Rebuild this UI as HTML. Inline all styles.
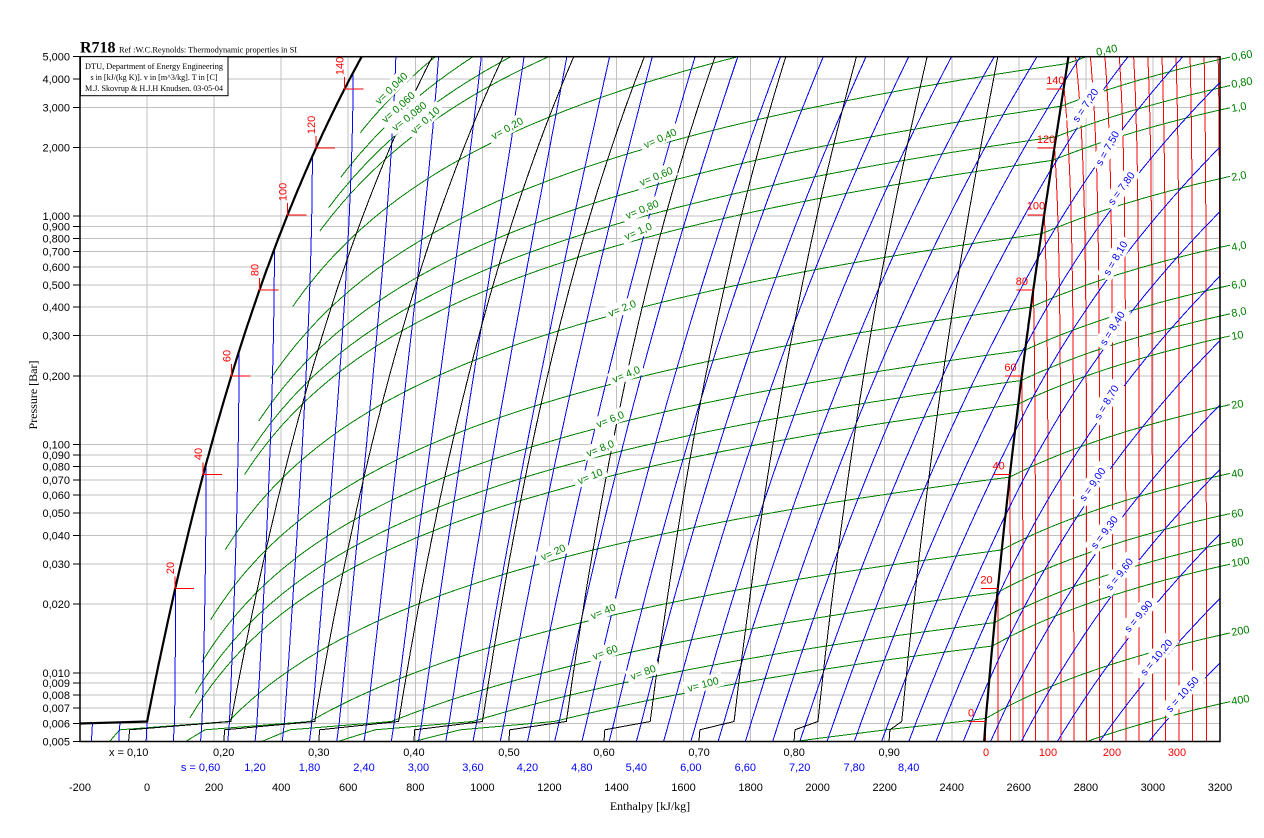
<!DOCTYPE html>
<html><head><meta charset="utf-8">
<style>
html,body{margin:0;padding:0;background:#fff;}
svg{display:block;}
</style></head><body>
<svg width="1264" height="838" viewBox="0 0 1264 838" xmlns="http://www.w3.org/2000/svg">
<defs>
<clipPath id="pc"><rect x="80" y="56.7" width="1140" height="684.8"/></clipPath>
<clipPath id="pv"><rect x="80" y="56.7" width="1150" height="684.8"/></clipPath>
</defs>
<rect width="1264" height="838" fill="#fff"/>

<!-- grid -->
<g stroke="#c0c0c0" stroke-width="1" shape-rendering="crispEdges">
<line x1="80" x2="1220" y1="78.8" y2="78.8"/><line x1="80" x2="1220" y1="107.3" y2="107.3"/><line x1="80" x2="1220" y1="147.5" y2="147.5"/><line x1="80" x2="1220" y1="216.2" y2="216.2"/><line x1="80" x2="1220" y1="226.7" y2="226.7"/><line x1="80" x2="1220" y1="238.4" y2="238.4"/><line x1="80" x2="1220" y1="251.6" y2="251.6"/><line x1="80" x2="1220" y1="266.9" y2="266.9"/><line x1="80" x2="1220" y1="285" y2="285"/><line x1="80" x2="1220" y1="307.1" y2="307.1"/><line x1="80" x2="1220" y1="335.6" y2="335.6"/><line x1="80" x2="1220" y1="375.8" y2="375.8"/><line x1="80" x2="1220" y1="444.5" y2="444.5"/><line x1="80" x2="1220" y1="455" y2="455"/><line x1="80" x2="1220" y1="466.6" y2="466.6"/><line x1="80" x2="1220" y1="479.9" y2="479.9"/><line x1="80" x2="1220" y1="495.2" y2="495.2"/><line x1="80" x2="1220" y1="513.2" y2="513.2"/><line x1="80" x2="1220" y1="535.4" y2="535.4"/><line x1="80" x2="1220" y1="563.9" y2="563.9"/><line x1="80" x2="1220" y1="604.1" y2="604.1"/><line x1="80" x2="1220" y1="672.8" y2="672.8"/><line x1="80" x2="1220" y1="683.2" y2="683.2"/><line x1="80" x2="1220" y1="694.9" y2="694.9"/><line x1="80" x2="1220" y1="708.1" y2="708.1"/><line x1="80" x2="1220" y1="723.4" y2="723.4"/>
<line y1="56.7" y2="741.5" x1="147.1" x2="147.1"/><line y1="56.7" y2="741.5" x1="214.1" x2="214.1"/><line y1="56.7" y2="741.5" x1="281.2" x2="281.2"/><line y1="56.7" y2="741.5" x1="348.2" x2="348.2"/><line y1="56.7" y2="741.5" x1="415.3" x2="415.3"/><line y1="56.7" y2="741.5" x1="482.4" x2="482.4"/><line y1="56.7" y2="741.5" x1="549.4" x2="549.4"/><line y1="56.7" y2="741.5" x1="616.5" x2="616.5"/><line y1="56.7" y2="741.5" x1="683.5" x2="683.5"/><line y1="56.7" y2="741.5" x1="750.6" x2="750.6"/><line y1="56.7" y2="741.5" x1="817.6" x2="817.6"/><line y1="56.7" y2="741.5" x1="884.7" x2="884.7"/><line y1="56.7" y2="741.5" x1="951.8" x2="951.8"/><line y1="56.7" y2="741.5" x1="1018.8" x2="1018.8"/><line y1="56.7" y2="741.5" x1="1085.9" x2="1085.9"/><line y1="56.7" y2="741.5" x1="1152.9" x2="1152.9"/>
</g>

<g id="curves"></g>

<!-- saturation ticks -->
<g stroke="#f00" stroke-width="1" shape-rendering="crispEdges" fill="none">
<path d="M175.2 576.5V588.5H194.2"/><path d="M203.2 462.6V474.6H222.2"/><path d="M231.3 364.1V376.1H250.3"/><path d="M259.4 278.2V290.2H278.4"/><path d="M287.7 202.9V214.9H306.7"/><path d="M316.1 136.2V148.2H335.1"/><path d="M344.6 76.8V88.8H363.6"/>
<path d="M968.6 721.5H985.6"/><path d="M980.9 588.5H997.9"/><path d="M993 474.6H1010"/><path d="M1004.9 376.1H1021.9"/><path d="M1016.3 290.2H1033.3"/><path d="M1027.3 214.9H1044.3"/><path d="M1037.4 148.2H1054.4"/><path d="M1046.7 88.8H1063.7"/>
</g>
<g font-family="Liberation Sans, sans-serif" font-size="11" fill="#f00">
<text transform="translate(170.2,568) rotate(-90)" text-anchor="middle" dy="4">20</text>
<text transform="translate(198.2,454) rotate(-90)" text-anchor="middle" dy="4">40</text>
<text transform="translate(226.3,356) rotate(-90)" text-anchor="middle" dy="4">60</text>
<text transform="translate(254.4,270) rotate(-90)" text-anchor="middle" dy="4">80</text>
<text transform="translate(282.7,192) rotate(-90)" text-anchor="middle" dy="4">100</text>
<text transform="translate(311.1,125) rotate(-90)" text-anchor="middle" dy="4">120</text>
<text transform="translate(339.6,66) rotate(-90)" text-anchor="middle" dy="4">140</text>
<text x="968" y="716.5">0</text>
<text x="980.4" y="583.5">20</text>
<text x="992.5" y="469.6">40</text>
<text x="1004.4" y="371.1">60</text>
<text x="1015.8" y="285.2">80</text>
<text x="1026.8" y="209.4">100</text>
<text x="1036.9" y="143.2">120</text>
<text x="1046.2" y="84">140</text>
</g>

<!-- in-plot isochore labels -->
<g font-family="Liberation Sans, sans-serif" font-size="10.5" fill="#008000" text-anchor="middle">
<g transform="translate(391,88) rotate(-44)"><rect x="-24" y="-7" width="48" height="14" fill="#fff"/><text y="4">v= 0,040</text></g>
<g transform="translate(398,107) rotate(-42)"><rect x="-24" y="-7" width="48" height="14" fill="#fff"/><text y="4">v= 0,060</text></g>
<g transform="translate(409,116) rotate(-38)"><rect x="-24" y="-7" width="48" height="14" fill="#fff"/><text y="4">v= 0,080</text></g>
<g transform="translate(425,120) rotate(-42)"><rect x="-21" y="-7" width="42" height="14" fill="#fff"/><text y="4">v= 0,10</text></g>
<g transform="translate(507,128) rotate(-29)"><rect x="-21" y="-7" width="42" height="14" fill="#fff"/><text y="4">v= 0,20</text></g>
<g transform="translate(660,138) rotate(-24)"><rect x="-21" y="-7" width="42" height="14" fill="#fff"/><text y="4">v= 0,40</text></g>
<g transform="translate(656,176) rotate(-22)"><rect x="-21" y="-7" width="42" height="14" fill="#fff"/><text y="4">v= 0,60</text></g>
<g transform="translate(642,209) rotate(-22)"><rect x="-21" y="-7" width="42" height="14" fill="#fff"/><text y="4">v= 0,80</text></g>
<g transform="translate(638,231) rotate(-24)"><rect x="-18" y="-7" width="36" height="14" fill="#fff"/><text y="4">v= 1,0</text></g>
<g transform="translate(622,308) rotate(-22)"><rect x="-18" y="-7" width="36" height="14" fill="#fff"/><text y="4">v= 2,0</text></g>
<g transform="translate(626,374) rotate(-22)"><rect x="-18" y="-7" width="36" height="14" fill="#fff"/><text y="4">v= 4,0</text></g>
<g transform="translate(610,419) rotate(-22)"><rect x="-18" y="-7" width="36" height="14" fill="#fff"/><text y="4">v= 6,0</text></g>
<g transform="translate(600,448) rotate(-22)"><rect x="-18" y="-7" width="36" height="14" fill="#fff"/><text y="4">v= 8,0</text></g>
<g transform="translate(590,476) rotate(-22)"><rect x="-17" y="-7" width="34" height="14" fill="#fff"/><text y="4">v= 10</text></g>
<g transform="translate(553,552) rotate(-24)"><rect x="-17" y="-7" width="34" height="14" fill="#fff"/><text y="4">v= 20</text></g>
<g transform="translate(603,611) rotate(-22)"><rect x="-17" y="-7" width="34" height="14" fill="#fff"/><text y="4">v= 40</text></g>
<g transform="translate(605,652) rotate(-20)"><rect x="-17" y="-7" width="34" height="14" fill="#fff"/><text y="4">v= 60</text></g>
<g transform="translate(643,672) rotate(-20)"><rect x="-17" y="-7" width="34" height="14" fill="#fff"/><text y="4">v= 80</text></g>
<g transform="translate(703,684) rotate(-15)"><rect x="-20" y="-7" width="40" height="14" fill="#fff"/><text y="4">v= 100</text></g>
</g>

<!-- in-plot isentrope labels -->
<g font-family="Liberation Sans, sans-serif" font-size="10.5" fill="#0000ff" text-anchor="middle">
<g transform="translate(1085,105) rotate(-56)"><rect x="-23" y="-8" width="46" height="16" fill="#fff"/><text y="4">s = 7,20</text></g>
<g transform="translate(1107,148) rotate(-61)"><rect x="-23" y="-8" width="46" height="16" fill="#fff"/><text y="4">s = 7,50</text></g>
<g transform="translate(1121,188) rotate(-54)"><rect x="-23" y="-8" width="46" height="16" fill="#fff"/><text y="4">s = 7,80</text></g>
<g transform="translate(1115,258) rotate(-60)"><rect x="-23" y="-8" width="46" height="16" fill="#fff"/><text y="4">s = 8,10</text></g>
<g transform="translate(1112,328) rotate(-58)"><rect x="-23" y="-8" width="46" height="16" fill="#fff"/><text y="4">s = 8,40</text></g>
<g transform="translate(1106,402) rotate(-59)"><rect x="-23" y="-8" width="46" height="16" fill="#fff"/><text y="4">s = 8,70</text></g>
<g transform="translate(1092,484) rotate(-55)"><rect x="-23" y="-8" width="46" height="16" fill="#fff"/><text y="4">s = 9,00</text></g>
<g transform="translate(1104,532) rotate(-53)"><rect x="-23" y="-8" width="46" height="16" fill="#fff"/><text y="4">s = 9,30</text></g>
<g transform="translate(1119,574) rotate(-52)"><rect x="-23" y="-8" width="46" height="16" fill="#fff"/><text y="4">s = 9,60</text></g>
<g transform="translate(1138,616) rotate(-50)"><rect x="-23" y="-8" width="46" height="16" fill="#fff"/><text y="4">s = 9,90</text></g>
<g transform="translate(1156,657) rotate(-50)"><rect x="-27" y="-8" width="54" height="16" fill="#fff"/><text y="4">s = 10,20</text></g>
<g transform="translate(1182,694) rotate(-48)"><rect x="-27" y="-8" width="54" height="16" fill="#fff"/><text y="4">s = 10,50</text></g>
</g>

<!-- plot border -->
<rect x="80" y="56.7" width="1140" height="684.8" fill="none" stroke="#000" stroke-width="1.5"/>

<!-- right isochore labels -->
<g font-family="Liberation Sans, sans-serif" font-size="11" fill="#008000">
<text transform="translate(1232,61) rotate(-10)">0,60</text>
<text transform="translate(1232,88) rotate(-10)">0,80</text>
<text transform="translate(1232,112) rotate(-10)">1,0</text>
<text transform="translate(1232,181) rotate(-10)">2,0</text>
<text transform="translate(1232,251) rotate(-10)">4,0</text>
<text transform="translate(1232,289) rotate(-10)">6,0</text>
<text transform="translate(1232,317) rotate(-10)">8,0</text>
<text transform="translate(1232,340) rotate(-10)">10</text>
<text transform="translate(1232,409) rotate(-10)">20</text>
<text transform="translate(1232,478) rotate(-10)">40</text>
<text transform="translate(1232,518) rotate(-10)">60</text>
<text transform="translate(1232,547) rotate(-10)">80</text>
<text transform="translate(1232,567) rotate(-10)">100</text>
<text transform="translate(1232,636) rotate(-10)">200</text>
<text transform="translate(1232,705) rotate(-10)">400</text>
<text transform="translate(1097,56) rotate(-12)">0,40</text>
</g>

<!-- y axis -->
<g stroke="#000" stroke-width="1" shape-rendering="crispEdges">
<line x1="73" x2="80" y1="56.7" y2="56.7"/><line x1="73" x2="80" y1="78.8" y2="78.8"/><line x1="73" x2="80" y1="107.3" y2="107.3"/><line x1="73" x2="80" y1="147.5" y2="147.5"/><line x1="73" x2="80" y1="216.2" y2="216.2"/><line x1="73" x2="80" y1="226.7" y2="226.7"/><line x1="73" x2="80" y1="238.4" y2="238.4"/><line x1="73" x2="80" y1="251.6" y2="251.6"/><line x1="73" x2="80" y1="266.9" y2="266.9"/><line x1="73" x2="80" y1="285" y2="285"/><line x1="73" x2="80" y1="307.1" y2="307.1"/><line x1="73" x2="80" y1="335.6" y2="335.6"/><line x1="73" x2="80" y1="375.8" y2="375.8"/><line x1="73" x2="80" y1="444.5" y2="444.5"/><line x1="73" x2="80" y1="455" y2="455"/><line x1="73" x2="80" y1="466.6" y2="466.6"/><line x1="73" x2="80" y1="479.9" y2="479.9"/><line x1="73" x2="80" y1="495.2" y2="495.2"/><line x1="73" x2="80" y1="513.2" y2="513.2"/><line x1="73" x2="80" y1="535.4" y2="535.4"/><line x1="73" x2="80" y1="563.9" y2="563.9"/><line x1="73" x2="80" y1="604.1" y2="604.1"/><line x1="73" x2="80" y1="672.8" y2="672.8"/><line x1="73" x2="80" y1="683.2" y2="683.2"/><line x1="73" x2="80" y1="694.9" y2="694.9"/><line x1="73" x2="80" y1="708.1" y2="708.1"/><line x1="73" x2="80" y1="723.4" y2="723.4"/><line x1="73" x2="80" y1="741.5" y2="741.5"/>
</g>
<g font-family="Liberation Sans, sans-serif" font-size="11" fill="#000" text-anchor="end">
<text x="70" y="60.7">5,000</text><text x="70" y="82.8">4,000</text><text x="70" y="111.3">3,000</text><text x="70" y="151.5">2,000</text><text x="70" y="220.2">1,000</text><text x="70" y="230.7">0,900</text><text x="70" y="242.4">0,800</text><text x="70" y="255.6">0,700</text><text x="70" y="270.9">0,600</text><text x="70" y="289">0,500</text><text x="70" y="311.1">0,400</text><text x="70" y="339.6">0,300</text><text x="70" y="379.8">0,200</text><text x="70" y="448.5">0,100</text><text x="70" y="459">0,090</text><text x="70" y="470.6">0,080</text><text x="70" y="483.9">0,070</text><text x="70" y="499.2">0,060</text><text x="70" y="517.2">0,050</text><text x="70" y="539.4">0,040</text><text x="70" y="567.9">0,030</text><text x="70" y="608.1">0,020</text><text x="70" y="676.8">0,010</text><text x="70" y="687.2">0,009</text><text x="70" y="698.9">0,008</text><text x="70" y="712.1">0,007</text><text x="70" y="727.4">0,006</text><text x="70" y="745.5">0,005</text>
</g>

<!-- bottom labels -->
<g font-family="Liberation Sans, sans-serif" font-size="11" text-anchor="middle">
<g fill="#000">
<text x="128.7" y="756">x = 0,10</text><text x="223.7" y="756">0,20</text><text x="318.8" y="756">0,30</text><text x="413.9" y="756">0,40</text><text x="509" y="756">0,50</text><text x="604" y="756">0,60</text><text x="699.1" y="756">0,70</text><text x="794.2" y="756">0,80</text><text x="889.2" y="756">0,90</text>
</g>
<g fill="#f00">
<text x="986" y="756">0</text><text x="1048" y="756">100</text><text x="1112" y="756">200</text><text x="1177" y="756">300</text>
</g>
<g fill="#0000ff">
<text x="200.6" y="771">s = 0,60</text><text x="255" y="771">1,20</text><text x="309.5" y="771">1,80</text><text x="364" y="771">2,40</text><text x="418.4" y="771">3,00</text><text x="472.9" y="771">3,60</text><text x="527.4" y="771">4,20</text><text x="581.8" y="771">4,80</text><text x="636.3" y="771">5,40</text><text x="690.8" y="771">6,00</text><text x="745.3" y="771">6,60</text><text x="799.7" y="771">7,20</text><text x="854.2" y="771">7,80</text><text x="908.7" y="771">8,40</text>
</g>
<g fill="#000">
<text x="80" y="791">-200</text><text x="147.1" y="791">0</text><text x="214.1" y="791">200</text><text x="281.2" y="791">400</text><text x="348.2" y="791">600</text><text x="415.3" y="791">800</text><text x="482.4" y="791">1000</text><text x="549.4" y="791">1200</text><text x="616.5" y="791">1400</text><text x="683.5" y="791">1600</text><text x="750.6" y="791">1800</text><text x="817.6" y="791">2000</text><text x="884.7" y="791">2200</text><text x="951.8" y="791">2400</text><text x="1018.8" y="791">2600</text><text x="1085.9" y="791">2800</text><text x="1152.9" y="791">3000</text><text x="1220" y="791">3200</text>
</g>
</g>
<text x="650" y="810" font-family="Liberation Serif, serif" font-size="12" text-anchor="middle">Enthalpy [kJ/kg]</text>
<text transform="translate(33,395) rotate(-90)" font-family="Liberation Serif, serif" font-size="12" text-anchor="middle" dy="4">Pressure [Bar]</text>

<!-- header -->
<text x="80" y="52.5" font-family="Liberation Serif, serif" font-size="16" font-weight="bold">R718</text>
<text x="119" y="52.5" font-family="Liberation Serif, serif" font-size="8" textLength="178" lengthAdjust="spacingAndGlyphs">Ref :W.C.Reynolds: Thermodynamic properties in SI</text>
<rect x="80.5" y="56.7" width="147.5" height="39" fill="#fff" stroke="#000" stroke-width="1"/>
<g font-family="Liberation Serif, serif" font-size="8" text-anchor="middle">
<text x="154" y="69" textLength="138" lengthAdjust="spacingAndGlyphs">DTU, Department of Energy Engineering</text>
<text x="154" y="80" textLength="127" lengthAdjust="spacingAndGlyphs">s in [kJ/(kg K)]. v in [m^3/kg]. T in [C]</text>
<text x="154" y="91" textLength="138" lengthAdjust="spacingAndGlyphs">M.J. Skovrup &amp; H.J.H Knudsen. 03-05-04</text>
</g>
</svg>

<script>
(function(){
var TT=[0.01,5,10,15,20,25,30,35,40,45,50,55,60,65,70,75,80,85,90,95,100,105,110,115,120,125,130,135,140,145,150,155];
var PP=[0.006117,0.008726,0.012282,0.017057,0.023392,0.031697,0.042467,0.056286,0.073844,0.095944,0.12351,0.15761,0.19946,0.25041,0.31201,0.38595,0.47416,0.57868,0.70183,0.84609,1.0142,1.2090,1.4338,1.6918,1.9867,2.3222,2.7026,3.1320,3.6150,4.1563,4.7610,5.4342];
var HF=[0,21.02,42.02,62.98,83.91,104.83,125.73,146.63,167.53,188.43,209.34,230.26,251.18,272.12,293.07,314.03,335.02,356.02,377.04,398.09,419.17,440.28,461.42,482.59,503.81,525.07,546.38,567.74,589.16,610.64,632.18,653.79];
var HG=[2500.9,2510.1,2519.2,2528.4,2537.4,2546.5,2555.6,2564.6,2573.5,2582.4,2591.3,2600.1,2608.8,2617.5,2626.1,2634.6,2643.0,2651.4,2659.6,2667.6,2675.6,2683.4,2691.1,2698.6,2705.9,2713.1,2720.1,2726.9,2733.5,2739.8,2745.9,2751.8];
var SF=[0,0.0763,0.1511,0.2245,0.2965,0.3672,0.4368,0.5051,0.5724,0.6386,0.7038,0.7680,0.8313,0.8937,0.9551,1.0158,1.0756,1.1346,1.1929,1.2504,1.3072,1.3634,1.4188,1.4737,1.5279,1.5816,1.6346,1.6872,1.7392,1.7908,1.8418,1.8924];
var SG=[9.1555,9.0248,8.8998,8.7803,8.6660,8.5566,8.4520,8.3517,8.2555,8.1633,8.0748,7.9898,7.9081,7.8296,7.7540,7.6812,7.6111,7.5435,7.4782,7.4151,7.3542,7.2952,7.2381,7.1828,7.1291,7.0770,7.0264,6.9772,6.9293,6.8826,6.8371,6.7926];
var VG=[205.99,147.01,106.30,77.875,57.757,43.337,32.878,25.205,19.515,15.252,12.027,9.5643,7.6672,6.1935,5.0395,4.1289,3.4052,2.8258,2.3591,1.9806,1.6718,1.4184,1.2093,1.0358,0.89121,0.77003,0.66800,0.58173,0.50845,0.44596,0.39245,0.34646];
function hIG(T){return 2501.4+1.834*T+0.000295*T*T;}
function hV(T,p){return hIG(T)-p*11.5*Math.exp(-(T-100)/110);}
function sV(T,p){var TK=T+273.15;return 7.383+1.6728*Math.log(TK/373.15)+0.00059*(TK-373.15)-0.4615*Math.log(p)-p*0.024*Math.exp(-(T-100)/85);}
function pV(T,v){var TK=T+273.15;var B=-0.0251*Math.exp(-(T-100)/120);return 0.004615*TK/(v-B);}
function satL(T){
  var i=T<5?0:Math.min(Math.floor(T/5),30);
  var t=(T-TT[i])/(TT[i+1]-TT[i]);
  function L(a){return a[i]+(a[i+1]-a[i])*t;}
  function G(a){return Math.exp(Math.log(a[i])+(Math.log(a[i+1])-Math.log(a[i]))*t);}
  return {p:G(PP),hf:L(HF),hg:L(HG),sf:L(SF),sg:L(SG),vg:G(VG),vf:0.001+7e-7*T};
}
var IT=[-3,-2,-1,0.01],IP=[0.004762,0.005177,0.005627,0.006117];
function satI(T){
  var i=T<-2?0:(T<-1?1:2);
  var t=(T-IT[i])/(IT[i+1]-IT[i]);
  var p=Math.exp(Math.log(IP[i])+(Math.log(IP[i+1])-Math.log(IP[i]))*t);
  var TK=T+273.15;
  return {p:p,hf:-333.4+2.1*T,sf:-1.2205+2.1*Math.log(TK/273.16),hg:2500.9+1.82*T,sg:sV(T,p),vg:0.004615*TK/p,vf:0.00109};
}
function sat(T){return T<0.01?satI(T):satL(T);}
function X(h){return 80+(h+200)*1140/3400;}
function Y(p){return 741.5-228.27*Math.log(p/0.005)/Math.LN10;}
function path(pts){
  if(pts.length<2) return '';
  var s='';
  for(var k=0;k<pts.length;k++){s+=(k?'L':'M')+X(pts[k][0]).toFixed(1)+' '+Y(pts[k][1]).toFixed(1);}
  return s;
}
function solveT(s,p){var a=-40,b=900;for(var i=0;i<50;i++){var m=(a+b)/2;if(sV(m,p)<s)a=m;else b=m;}return (a+b)/2;}
var TG=[-3,-2,-1];
for(var T=0.01;T<=155.2;T+=0.5){TG.push(T>155?155:T);}

var red='',green='',blue='',black='',thick='';
function P(d,col,w){return d?'<path d="'+d+'" fill="none" stroke="'+col+'" stroke-width="'+w+'"/>':'';}

/* isotherms */
for(var Ti=0;Ti<=360;Ti+=20){
  var pmax=Ti<=155?sat(Ti===0?0.01:Ti).p:5.8;
  var pts=[];var n=60;
  for(var i=0;i<=n;i++){var p=0.0042*Math.pow(pmax/0.0042,i/n);pts.push([hV(Ti,p),p]);}
  red+=P(path(pts),'#ff0000',1);
}
/* isochores */
var VV=[0.04,0.06,0.08,0.1,0.2,0.4,0.6,0.8,1,2,4,6,8,10,20,40,60,80,100,200,400];
for(var a=0;a<VV.length;a++){
  var v=VV[a];var pts=[];
  for(var j=0;j<TG.length;j++){
    var st=sat(TG[j]);var q=(v-st.vf)/(st.vg-st.vf);
    if(q<0.05){continue;}
    if(q>1)break;
    pts.push([st.hf+q*(st.hg-st.hf),st.p]);
  }
  for(var T2=-3;T2<=460;T2+=0.5){
    var p=pV(T2,v);
    if(p<0.0042)continue;
    if(p>5.8)break;
    if(T2<=155&&p>sat(T2<0.01&&T2>-0.5?0.01:T2).p)continue;
    var h=hV(T2,p);pts.push([h,p]);
    if(X(h)>1236)break;
  }
  green+=P(path(pts),'#008000',1);
}
/* isentropes */
for(var k=-2;k<=35;k++){
  var s=k*0.3;var pts=[];var sup=false;var pStart=0.0042;
  for(var j=0;j<TG.length;j++){
    var st=sat(TG[j]);
    if(s<st.sf-1e-9){if(pts.length)break;else continue;}
    var q=(s-st.sf)/(st.sg-st.sf);
    if(q>1){sup=true;if(pts.length)pStart=pts[pts.length-1][1];break;}
    pts.push([st.hf+q*(st.hg-st.hf),st.p]);
  }
  if(sup){
    for(var p=pStart;p<5.9;p*=1.02){var T3=solveT(s,p);var h=hV(T3,p);pts.push([h,p]);if(X(h)>1236)break;}
  }
  if(k<0&&pts.length){pts.push([pts[pts.length-1][0]+2,0.00602]);}
  blue+=P(path(pts),'#0000ff',1);
}
/* quality lines */
for(var xq=1;xq<=9;xq++){
  var x=xq/10;var pts=[];
  for(var j=0;j<TG.length;j++){var st=sat(TG[j]);pts.push([st.hf+x*(st.hg-st.hf),st.p]);}
  black+=P(path(pts),'#000000',1);
}
/* saturation */
var lq=[],vp=[];
for(var j=0;j<TG.length;j++){var st=sat(TG[j]);if(TG[j]>=0.01)lq.push([st.hf,st.p]);vp.push([st.hg,st.p]);}
thick+=P('M80 723.5L147.1 721.5'+path(lq).replace(/^M/,'L'),'#000000',2.2);
thick+=P(path(vp),'#000000',2.2);

var g=document.getElementById('curves');
g.innerHTML='<g clip-path="url(#pc)" shape-rendering="crispEdges">'+red+'</g>'+
 '<g clip-path="url(#pv)" shape-rendering="crispEdges">'+green+'</g>'+
 '<g clip-path="url(#pc)" shape-rendering="crispEdges">'+blue+black+'</g>'+
 '<g clip-path="url(#pc)">'+thick+'</g>';
})();
</script>
</body></html>
